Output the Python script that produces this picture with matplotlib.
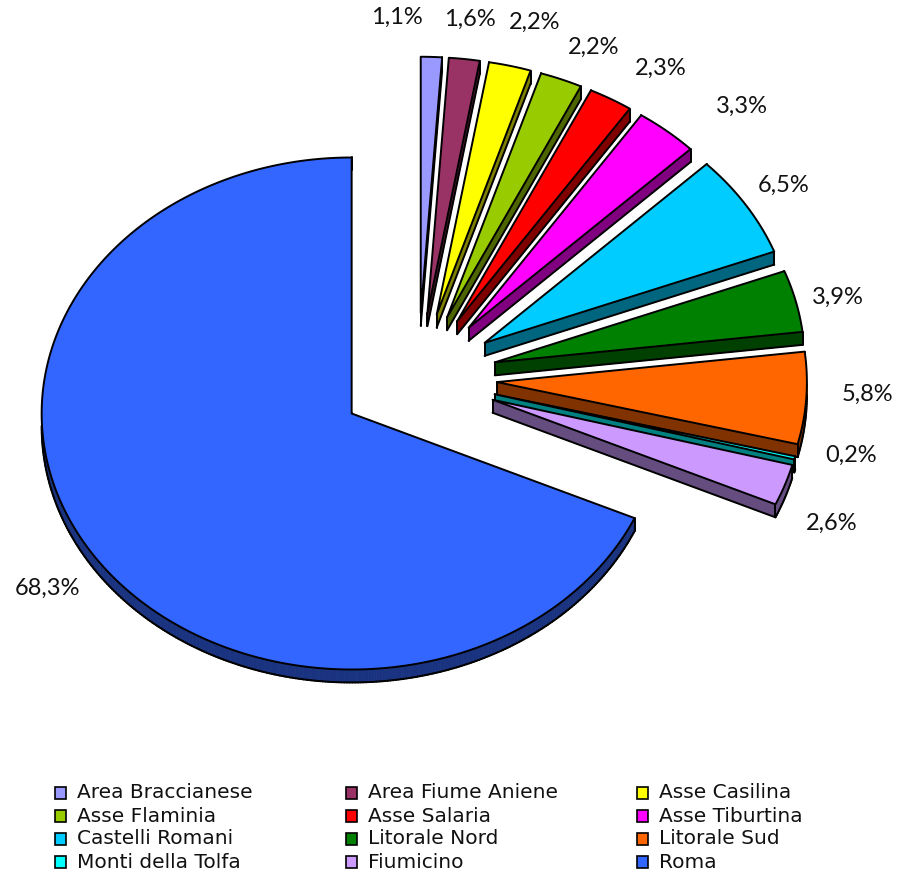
import numpy as np
import matplotlib.pyplot as plt
from matplotlib.patches import Polygon, Rectangle
from matplotlib.collections import LineCollection
from matplotlib.colors import to_rgb

# Quote per area (%), in senso orario a partire da ore 12
zone = ['Area Braccianese', 'Area Fiume Aniene', 'Asse Casilina', 'Asse Flaminia',
        'Asse Salaria', 'Asse Tiburtina', 'Castelli Romani', 'Litorale Nord',
        'Litorale Sud', 'Monti della Tolfa', 'Fiumicino', 'Roma']
quota = [1.1, 1.6, 2.2, 2.2, 2.3, 3.3, 6.5, 3.9, 5.8, 0.2, 2.6, 68.3]
colori = ['#9999FF', '#993366', '#FFFF00', '#99CC00', '#FF0000', '#FF00FF',
          '#00CCFF', '#008000', '#FF6600', '#00FFFF', '#CC99FF', '#3366FF']

# spostamento delle etichette per evitare sovrapposizioni (gradi, raggio)
sposta_ang = [-4.8, 0, 1.5, 2.1, 3.3, 4.7, 0, 0.7, -1, -2.2, 3.6, -1.5]
raggio_etich = [1.41, 1.41, 1.44, 1.41, 1.44, 1.49, 1.40, 1.39, 1.45, 1.43, 1.45, 1.45]

# geometria della torta "3D" in pixel
cx, cy = 418, 378
rx, ry = 310, 256
esplodi = 0.255
spessore = 13

fig = plt.figure(figsize=(8.97, 8.74), dpi=100)
ax = fig.add_axes([0, 0, 1, 1])
ax.set_xlim(0, 897)
ax.set_ylim(874, 0)
ax.axis('off')


def punto(x0, y0, ang, r=1.0):
    a = np.radians(ang)
    return x0 + r * rx * np.sin(a), y0 - r * ry * np.cos(a)


tot = sum(quota)
ampiezza = np.array(quota) / tot * 360
inizio = np.concatenate([[0], np.cumsum(ampiezza)[:-1]])
centro = inizio + ampiezza / 2

# prima le fette in fondo, poi quelle davanti
ordine = np.argsort(-np.cos(np.radians(centro)))

for rank, k in enumerate(ordine):
    z = 10 + 5 * rank
    col = colori[k]
    scuro = tuple(0.5 * c for c in to_rgb(col))
    ox, oy = punto(cx, cy, centro[k], esplodi)
    n = max(4, int(ampiezza[k] * 2))
    angs = np.linspace(inizio[k], inizio[k] + ampiezza[k], n)
    arco = [punto(ox, oy, a) for a in angs]
    sopra = np.array([(ox, oy)] + arco)
    sotto = sopra + [0, spessore]

    x, y = sopra[:, 0], sopra[:, 1]
    area = 0.5 * np.sum(x * np.roll(y, -1) - np.roll(x, -1) * y)
    s = np.sign(area)

    # pareti laterali visibili (normale rivolta verso il basso)
    linee = []
    for i in range(len(sopra)):
        j = (i + 1) % len(sopra)
        dx, dy = sopra[j] - sopra[i]
        ny = s * -dx
        if ny > 1e-6:
            quad = [sopra[i], sopra[j], sotto[j], sotto[i]]
            ax.add_patch(Polygon(quad, closed=True, fc=scuro, ec=scuro,
                                 lw=0.6, zorder=z))
            linee.append([sotto[i], sotto[j]])
    ax.add_collection(LineCollection(linee, colors='k', linewidths=1.4,
                                     capstyle='round', zorder=z + 1))
    # spigoli verticali
    for p in (sopra[0], sopra[1], sopra[-1]):
        ax.plot([p[0], p[0]], [p[1], p[1] + spessore], color='k', lw=1.4,
                solid_capstyle='round', zorder=z + 1)
    ax.add_patch(Polygon(sopra, closed=True, fc=col, ec='k', lw=1.4,
                         joinstyle='round', zorder=z + 2))

# etichette percentuali
for k in range(len(quota)):
    lx, ly = punto(cx, cy, centro[k] + sposta_ang[k], raggio_etich[k])
    ax.text(lx, ly, f'{quota[k]:.1f}%'.replace('.', ','), ha='center',
            va='center', fontsize=17, family='Lato', color='#111111')

# legenda su tre colonne
for k, nome in enumerate(zone):
    r, c = divmod(k, 3)
    xq = 55 + 291 * c
    yq = 793 + 23 * r
    ax.add_patch(Rectangle((xq, yq - 6), 11, 12, fc=colori[k], ec='k', lw=1.2))
    ax.text(xq + 22, yq, nome, ha='left', va='center', fontsize=14.5,
            family='DejaVu Sans', color='#111111')

fig.savefig('out.png', dpi=100)
